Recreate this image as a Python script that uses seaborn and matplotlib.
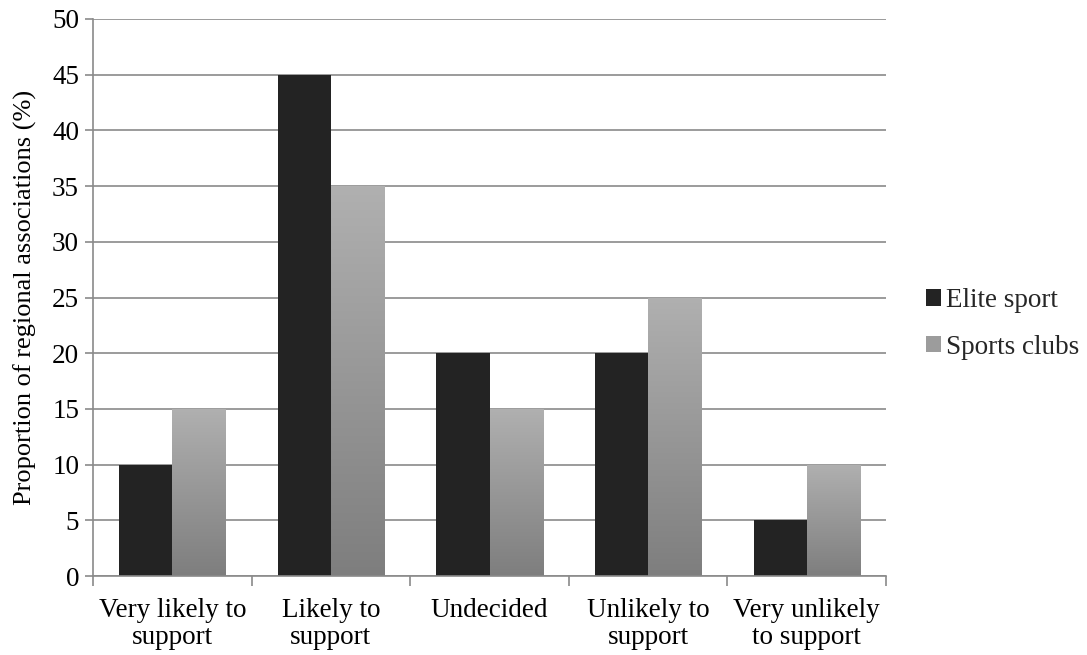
import numpy as np
import pandas as pd
import matplotlib
matplotlib.use("Agg")
import matplotlib.pyplot as plt
from matplotlib.patches import Patch
import seaborn as sns

categories = ["Very likely to\nsupport", "Likely to\nsupport", "Undecided",
              "Unlikely to\nsupport", "Very unlikely\nto support"]
elite_sport = [10, 45, 20, 20, 5]
sports_clubs = [15, 35, 15, 25, 10]
series_names = ["Elite sport", "Sports clubs"]
y_ticks = list(range(0, 55, 5))

df = pd.DataFrame({
    "category": categories * 2,
    "value": elite_sport + sports_clubs,
    "series": [series_names[0]] * len(categories) + [series_names[1]] * len(categories),
})

sns.set_theme(style="white")
plt.rcParams["font.family"] = ["Liberation Serif", "DejaVu Serif"]

FS = 19.5

fig = plt.figure(figsize=(10.87, 6.55), dpi=100)
ax = fig.add_axes([93 / 1087, 1 - 576 / 655, (886 - 93) / 1087, (576 - 19) / 655])

dark = "#232323"
palette = {series_names[0]: dark, series_names[1]: "#9c9c9c"}
sns.barplot(data=df, x="category", y="value", hue="series", palette=palette,
            order=categories, hue_order=series_names, width=0.67,
            saturation=1, legend=False, ax=ax, linewidth=0)

# vertical grey gradient on the "Sports clubs" bars
grad = np.linspace(0, 1, 256).reshape(-1, 1)
cmap = matplotlib.colors.LinearSegmentedColormap.from_list("g", ["#7e7e7e", "#b0b0b0"])
n = len(categories)
for p in ax.patches[n:2 * n]:
    x0, y0 = p.get_x(), p.get_y()
    w, h = p.get_width(), p.get_height()
    p.set_facecolor("none")
    im = ax.imshow(grad, cmap=cmap, origin="lower", aspect="auto",
                   extent=[x0, x0 + w, y0, y0 + h], zorder=2.5)
    im.set_clip_path(p)

ax.set_xlim(-0.5, n - 0.5)
ax.set_ylim(0, 50)
ax.set_yticks(y_ticks)
ax.yaxis.grid(True, color="#8a8a8a", linewidth=1.2)
ax.set_axisbelow(True)

for side in ["top", "right"]:
    ax.spines[side].set_visible(False)
for side in ["left", "bottom"]:
    ax.spines[side].set_color("#8a8a8a")
    ax.spines[side].set_linewidth(1.2)

ax.tick_params(axis="y", which="major", length=6, width=1.2, color="#8a8a8a",
               direction="out", left=True, labelsize=FS, pad=4, labelcolor="black")
ax.set_xticks(range(n))
ax.set_xticklabels(categories)
ax.set_xticks(np.arange(-0.5, n, 1.0), minor=True)
ax.tick_params(axis="x", which="major", length=0, labelsize=FS, pad=16, labelcolor="black")
ax.tick_params(axis="x", which="minor", length=7, width=1.2, color="#8a8a8a",
               direction="out", bottom=True)
for lbl in ax.get_xticklabels():
    lbl.set_linespacing(1.1)

ax.set_xlabel("")
ax.set_ylabel("Proportion of regional associations (%)", fontsize=19, labelpad=11,
              color="black")

handles = [Patch(facecolor=dark, edgecolor="none"),
           Patch(facecolor="#9c9c9c", edgecolor="none")]
fig.legend(handles, series_names, loc="center left",
           bbox_to_anchor=(926 / 1087, 1 - 324 / 655),
           frameon=False, fontsize=FS, handlelength=0.55, handleheight=0.55,
           handletextpad=0.2, labelspacing=0.8, borderpad=0, borderaxespad=0)

fig.savefig("out.png", dpi=100)
